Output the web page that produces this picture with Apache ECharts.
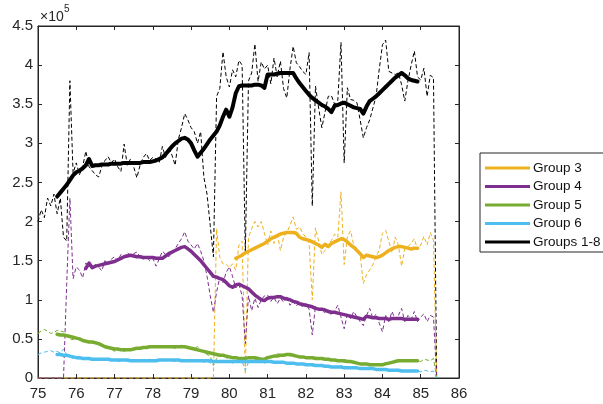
<!DOCTYPE html>
<html>
<head>
<meta charset="utf-8">
<script src="https://cdn.jsdelivr.net/npm/echarts@6/dist/echarts.min.js"></script>
<style>
  html, body { margin: 0; padding: 0; background: #fff; }
  #chart { width: 603px; height: 404px; }
</style>
</head>
<body>
<div id="chart"></div>
<script>
// Monthly sampling grid: 1975.0 onwards, one value per month (126 months).
const startYear = 75;
const monthCount = 126;
const months = Array.from({ length: monthCount }, (_, i) => startYear + i / 12);

// Monthly totals (units of 1e5)
const rawAll = [
  2.00, 2.15, 2.05, 2.30, 2.20, 2.35, 2.10, 2.30, 1.80, 1.75,
  3.80, 2.62, 2.75, 2.60, 2.70, 2.90, 2.70, 2.65, 2.60, 2.57,
  2.70, 2.78, 2.83, 2.75, 2.80, 2.70, 2.64, 2.99, 2.72, 2.80,
  2.70, 2.56, 2.72, 2.82, 2.87, 2.78, 2.82, 2.80, 2.75, 2.96,
  2.82, 2.95, 2.85, 2.72, 3.05, 3.20, 3.38, 3.30, 3.20, 3.15,
  3.00, 3.15, 2.57, 2.35, 1.95, 1.55, 3.60, 3.70, 4.17, 3.85,
  3.72, 3.94, 3.85, 4.06, 4.00, 1.60, 3.80, 3.90, 4.27, 3.79,
  4.04, 3.95, 4.00, 3.76, 4.09, 3.85, 4.05, 3.70, 3.58, 3.95,
  4.24, 4.03, 3.98, 3.92, 3.88, 4.16, 2.20, 3.73, 3.45, 3.20,
  3.40, 3.60, 3.61, 3.50, 3.55, 4.29, 2.75, 3.71, 3.56, 3.55,
  3.52, 3.30, 3.07, 3.20, 3.30, 3.45, 3.60, 3.95, 4.26, 4.32,
  3.92, 3.90, 3.88, 3.90, 3.75, 3.54, 3.80, 4.00, 4.18, 3.85,
  3.81, 3.96, 3.60, 3.87, 3.84, 0
];
const rawG3 = [
  0, 0, 0, 0, 0, 0, 0, 0, 0, 0,
  0, 0, 0, 0, 0, 0, 0, 0, 0, 0,
  0, 0, 0, 0, 0, 0, 0, 0, 0, 0,
  0, 0, 0, 0, 0, 0, 0, 0, 0, 0,
  0, 0, 0, 0, 0, 0, 0, 0, 0, 0,
  0, 0, 0, 0, 0, 0, 1.91, 1.54, 1.46, 1.45,
  1.41, 1.46, 1.38, 1.70, 1.75, 0.05, 1.80, 1.91, 2.00, 1.93,
  2.00, 1.85, 1.70, 1.88, 1.72, 1.85, 1.63, 1.80, 1.86, 1.95,
  2.06, 1.90, 1.93, 1.85, 1.80, 1.72, 1.00, 1.92, 1.75, 1.58,
  1.63, 1.70, 1.76, 1.84, 1.80, 2.38, 1.45, 1.81, 1.88, 1.70,
  1.65, 1.58, 1.21, 1.32, 1.38, 1.45, 1.55, 1.64, 1.85, 1.89,
  1.75, 1.60, 1.80, 1.70, 1.43, 1.65, 1.68, 1.72, 1.78, 1.64,
  1.70, 1.81, 1.70, 1.86, 1.76, 0
];
const rawG4 = [
  0, 0, 0, 0, 0, 0, 0, 0, 0, 1.20,
  2.30, 1.27, 1.42, 1.38, 1.28, 1.47, 1.43, 1.40, 1.45, 1.42,
  1.37, 1.50, 1.45, 1.52, 1.55, 1.50, 1.58, 1.55, 1.60, 1.57,
  1.59, 1.61, 1.55, 1.52, 1.55, 1.50, 1.53, 1.43, 1.52, 1.62,
  1.58, 1.55, 1.60, 1.65, 1.72, 1.78, 1.87, 1.75, 1.70, 1.65,
  1.72, 1.62, 1.50, 1.30, 1.05, 0.84, 1.10, 1.29, 1.22, 1.35,
  1.42, 1.30, 1.15, 1.20, 1.05, 0.44, 1.05, 0.86, 1.02, 0.90,
  1.00, 1.05, 1.06, 0.98, 1.03, 0.95, 1.02, 0.97, 1.05, 0.93,
  0.98, 0.92, 0.97, 0.90, 0.95, 0.88, 0.55, 0.92, 0.85, 0.90,
  0.82, 0.88, 0.80, 0.86, 0.93, 0.78, 0.63, 0.82, 0.76, 0.85,
  0.78, 0.72, 0.67, 0.80, 0.89, 0.76, 0.82, 0.70, 0.59, 0.80,
  0.72, 0.85, 0.75, 0.80, 0.89, 0.72, 0.80, 0.75, 0.85, 0.72,
  0.78, 0.82, 0.72, 0.80, 0.78, 0
];
const rawG5 = [
  0.57, 0.60, 0.62, 0.60, 0.57, 0.58, 0.61, 0.60, 0.59, 0.55,
  0.50, 0.49, 0.52, 0.50, 0.48, 0.47, 0.46, 0.45, 0.46, 0.43,
  0.41, 0.40, 0.38, 0.37, 0.34, 0.37, 0.35, 0.34, 0.36, 0.37,
  0.36, 0.38, 0.40, 0.39, 0.41, 0.40, 0.41, 0.39, 0.41, 0.40,
  0.40, 0.41, 0.39, 0.38, 0.40, 0.42, 0.39, 0.40, 0.37, 0.38,
  0.40, 0.36, 0.33, 0.30, 0.28, 0.16, 0.25, 0.28, 0.30, 0.26,
  0.24, 0.26, 0.25, 0.24, 0.25, 0.18, 0.24, 0.27, 0.23, 0.25,
  0.22, 0.26, 0.27, 0.29, 0.28, 0.31, 0.30, 0.29, 0.31, 0.28,
  0.30, 0.29, 0.28, 0.27, 0.28, 0.27, 0.24, 0.28, 0.26, 0.24,
  0.25, 0.24, 0.22, 0.24, 0.23, 0.22, 0.20, 0.23, 0.21, 0.22,
  0.20, 0.19, 0.17, 0.18, 0.15, 0.17, 0.16, 0.18, 0.17, 0.20,
  0.19, 0.21, 0.20, 0.22, 0.21, 0.23, 0.22, 0.21, 0.23, 0.22,
  0.21, 0.24, 0.23, 0.22, 0.25, 0
];
const rawG6 = [
  0.30, 0.32, 0.33, 0.34, 0.35, 0.33, 0.34, 0.32, 0.37, 0.30,
  0.27, 0.25, 0.26, 0.24, 0.25, 0.23, 0.24, 0.25, 0.23, 0.24,
  0.24, 0.23, 0.25, 0.22, 0.24, 0.21, 0.22, 0.23, 0.21, 0.22,
  0.21, 0.22, 0.23, 0.21, 0.22, 0.24, 0.22, 0.23, 0.21, 0.24,
  0.22, 0.23, 0.22, 0.21, 0.24, 0.22, 0.23, 0.21, 0.22, 0.23,
  0.21, 0.22, 0.20, 0.22, 0.19, 0.22, 0.20, 0.21, 0.22, 0.20,
  0.21, 0.19, 0.22, 0.20, 0.21, 0.10, 0.20, 0.22, 0.21, 0.20,
  0.21, 0.19, 0.21, 0.20, 0.22, 0.20, 0.19, 0.21, 0.19, 0.20,
  0.18, 0.19, 0.17, 0.18, 0.19, 0.16, 0.18, 0.15, 0.17, 0.16,
  0.15, 0.16, 0.14, 0.15, 0.13, 0.16, 0.14, 0.13, 0.15, 0.12,
  0.13, 0.12, 0.14, 0.11, 0.13, 0.11, 0.12, 0.10, 0.12, 0.11,
  0.10, 0.11, 0.09, 0.10, 0.08, 0.10, 0.09, 0.08, 0.10, 0.09,
  0.08, 0.10, 0.09, 0.08, 0.09, 0
];

// Smoothed trends; each begins at the given month index of the grid.
const smoothAllStart = 6;
const smoothAll = [
  2.32, 2.37, 2.42, 2.47, 2.53, 2.59, 2.63, 2.65, 2.68, 2.72,
  2.80, 2.71, 2.72, 2.72, 2.73, 2.73, 2.73, 2.74, 2.74, 2.74,
  2.74, 2.75, 2.75, 2.75, 2.75, 2.75, 2.75, 2.76, 2.76, 2.76,
  2.77, 2.78, 2.80, 2.82, 2.86, 2.91, 2.96, 3.00, 3.03, 3.06,
  3.07, 3.05, 3.00, 2.91, 2.83, 2.88, 2.93, 2.99, 3.05, 3.10,
  3.15, 3.23, 3.34, 3.43, 3.34, 3.46, 3.64, 3.73, 3.74, 3.74,
  3.74, 3.74, 3.75, 3.75, 3.74, 3.71, 3.88, 3.88, 3.88, 3.89,
  3.90, 3.90, 3.90, 3.90, 3.90, 3.83, 3.77, 3.72, 3.67, 3.62,
  3.58, 3.55, 3.52, 3.49, 3.47, 3.44, 3.40, 3.48, 3.49, 3.51,
  3.52, 3.50, 3.48, 3.46, 3.45, 3.44, 3.38, 3.47, 3.54, 3.57,
  3.60, 3.64, 3.68, 3.72, 3.76, 3.80, 3.84, 3.87, 3.90, 3.87,
  3.83, 3.81, 3.80, 3.79
];
const smoothG3Start = 62;
const smoothG3 = [
  1.53, 1.55, 1.57, 1.60, 1.62, 1.64, 1.66, 1.68, 1.70, 1.72,
  1.75, 1.78, 1.80, 1.82, 1.84, 1.85, 1.86, 1.86, 1.86, 1.85,
  1.80, 1.78, 1.77, 1.76, 1.74, 1.72, 1.70, 1.67, 1.71, 1.68,
  1.72, 1.74, 1.76, 1.78, 1.77, 1.74, 1.70, 1.67, 1.63, 1.59,
  1.54, 1.57, 1.56, 1.55, 1.54, 1.55, 1.57, 1.60, 1.63, 1.65,
  1.67, 1.68, 1.68, 1.67, 1.66, 1.65, 1.66, 1.66
];
const smoothG4Start = 15;
const smoothG4 = [
  1.40, 1.47, 1.41, 1.43, 1.44, 1.45, 1.46, 1.47, 1.48, 1.49,
  1.51, 1.53, 1.55, 1.56, 1.57, 1.56, 1.55, 1.55, 1.54, 1.54,
  1.54, 1.54, 1.53, 1.53, 1.53, 1.56, 1.59, 1.61, 1.63, 1.65,
  1.67, 1.68, 1.65, 1.62, 1.58, 1.54, 1.50, 1.45, 1.40, 1.35,
  1.30, 1.29, 1.27, 1.26, 1.22, 1.18, 1.16, 1.19, 1.20, 1.18,
  1.16, 1.14, 1.10, 1.06, 1.03, 1.00, 0.99, 1.02, 1.03, 1.03,
  1.04, 1.04, 1.02, 1.01, 1.00, 0.98, 0.97, 0.95, 0.94, 0.93,
  0.92, 0.91, 0.89, 0.88, 0.88, 0.87, 0.85, 0.84, 0.84, 0.83,
  0.82, 0.81, 0.80, 0.79, 0.78, 0.77, 0.76, 0.75, 0.79, 0.78,
  0.77, 0.77, 0.76, 0.76, 0.76, 0.75, 0.76, 0.76, 0.76, 0.76,
  0.75, 0.75, 0.75, 0.75, 0.75
];
const smoothG5Start = 6;
const smoothG5 = [
  0.56, 0.55, 0.55, 0.54, 0.53, 0.52, 0.51, 0.50, 0.48, 0.47,
  0.46, 0.46, 0.45, 0.44, 0.42, 0.40, 0.39, 0.38, 0.37, 0.37,
  0.36, 0.36, 0.36, 0.36, 0.37, 0.38, 0.38, 0.39, 0.39, 0.40,
  0.40, 0.40, 0.40, 0.40, 0.40, 0.40, 0.40, 0.40, 0.40, 0.40,
  0.40, 0.39, 0.38, 0.37, 0.36, 0.35, 0.34, 0.33, 0.32, 0.31,
  0.30, 0.29, 0.29, 0.28, 0.27, 0.26, 0.26, 0.25, 0.25, 0.25,
  0.26, 0.26, 0.26, 0.25, 0.24, 0.24, 0.26, 0.27, 0.28, 0.28,
  0.29, 0.29, 0.30, 0.30, 0.29, 0.28, 0.27, 0.27, 0.26, 0.26,
  0.26, 0.25, 0.25, 0.25, 0.24, 0.24, 0.23, 0.23, 0.22, 0.22,
  0.22, 0.21, 0.21, 0.20, 0.19, 0.18, 0.18, 0.18, 0.17, 0.17,
  0.17, 0.17, 0.17, 0.18, 0.19, 0.20, 0.21, 0.22, 0.22, 0.22,
  0.22, 0.22, 0.22, 0.22
];
const smoothG6Start = 6;
const smoothG6 = [
  0.30, 0.30, 0.29, 0.29, 0.28, 0.27, 0.26, 0.26, 0.25, 0.25,
  0.25, 0.24, 0.24, 0.24, 0.24, 0.24, 0.24, 0.23, 0.23, 0.23,
  0.23, 0.23, 0.23, 0.22, 0.22, 0.22, 0.22, 0.22, 0.22, 0.22,
  0.22, 0.22, 0.23, 0.23, 0.23, 0.23, 0.23, 0.23, 0.23, 0.22,
  0.22, 0.22, 0.22, 0.22, 0.22, 0.22, 0.22, 0.22, 0.22, 0.21,
  0.21, 0.21, 0.21, 0.21, 0.21, 0.21, 0.21, 0.21, 0.21, 0.21,
  0.21, 0.21, 0.21, 0.21, 0.21, 0.21, 0.21, 0.21, 0.20, 0.20,
  0.20, 0.20, 0.19, 0.19, 0.19, 0.18, 0.18, 0.18, 0.17, 0.17,
  0.17, 0.16, 0.16, 0.16, 0.15, 0.15, 0.14, 0.14, 0.14, 0.14,
  0.13, 0.13, 0.13, 0.13, 0.13, 0.12, 0.12, 0.12, 0.12, 0.12,
  0.11, 0.11, 0.11, 0.11, 0.10, 0.10, 0.10, 0.10, 0.09, 0.09,
  0.09, 0.09, 0.09, 0.09
];

const groupNames = ['Group 3', 'Group 4', 'Group 5', 'Group 6', 'Groups 1-8'];
const groupColors = ['#EDB120', '#7E2F8E', '#77AC30', '#4DBEEE', '#000000'];
const yTicks = [0, 0.5, 1, 1.5, 2, 2.5, 3, 3.5, 4, 4.5];

const axisColor = '#262626';
const font = '"Liberation Sans", Arial, Helvetica, sans-serif';

function rawPoints(values) {
  return values.map((v, i) => [months[i], v]);
}
function smoothPoints(values, start) {
  return values.map((v, k) => [months[start + k], v]);
}

const rawSets = [rawG3, rawG4, rawG5, rawG6, rawAll];
const smoothSets = [
  [smoothG3, smoothG3Start],
  [smoothG4, smoothG4Start],
  [smoothG5, smoothG5Start],
  [smoothG6, smoothG6Start],
  [smoothAll, smoothAllStart]
];

const series = [];
// thin dashed monthly lines, totals underneath
[4, 0, 1, 2, 3].forEach(g => {
  series.push({
    name: groupNames[g] + ' (monthly)',
    type: 'line',
    data: rawPoints(rawSets[g]),
    showSymbol: false,
    symbol: 'none',
    clip: false,
    lineStyle: { color: groupColors[g], width: 1, type: [4, 2.5] },
    itemStyle: { color: groupColors[g] },
    z: 2
  });
});
// thick smoothed trend lines
[0, 1, 2, 3, 4].forEach(g => {
  series.push({
    name: groupNames[g],
    type: 'line',
    data: smoothPoints(smoothSets[g][0], smoothSets[g][1]),
    showSymbol: false,
    symbol: 'none',
    lineStyle: { color: groupColors[g], width: g === 4 ? 4 : 3.5, cap: 'round', join: 'round' },
    itemStyle: { color: groupColors[g] },
    z: 3
  });
});

const axisCommon = {
  type: 'value',
  axisLine: { show: true, onZero: false, lineStyle: { color: axisColor, width: 1 } },
  axisTick: { show: true, inside: true, length: 4, lineStyle: { color: axisColor } },
  splitLine: { show: false }
};

const chart = echarts.init(document.getElementById('chart'), null, { renderer: 'canvas' });
chart.setOption({
  animation: false,
  backgroundColor: '#ffffff',
  grid: { left: 38, right: 144, top: 26, bottom: 26, containLabel: false,
    show: true, borderColor: axisColor, borderWidth: 1, backgroundColor: 'transparent' },
  xAxis: [
    Object.assign({}, axisCommon, {
      min: 75, max: 86, interval: 1, position: 'bottom',
      axisLabel: { color: axisColor, fontSize: 15, fontFamily: font, margin: 8 }
    }),
    Object.assign({}, axisCommon, {
      min: 75, max: 86, interval: 1, position: 'top',
      axisLabel: { show: false }
    })
  ],
  yAxis: [
    Object.assign({}, axisCommon, {
      min: yTicks[0], max: yTicks[yTicks.length - 1], interval: 0.5, position: 'left',
      axisLabel: { color: axisColor, fontSize: 15, fontFamily: font, margin: 5,
        formatter: v => String(v) }
    }),
    Object.assign({}, axisCommon, {
      min: yTicks[0], max: yTicks[yTicks.length - 1], interval: 0.5, position: 'right',
      axisLabel: { show: false }
    })
  ],
  legend: {
    data: groupNames,
    orient: 'vertical',
    left: 480,
    top: 153,
    width: 121,
    padding: [8, 7, 3, 5],
    itemGap: 4.5,
    itemWidth: 45,
    itemHeight: 3,
    icon: 'rect',
    selectedMode: false,
    borderColor: axisColor,
    borderWidth: 1,
    backgroundColor: '#ffffff',
    textStyle: { color: '#111', fontSize: 13.5, fontFamily: font, padding: [0, 0, 0, -2], lineHeight: 14 }
  },
  graphic: [
    {
      type: 'text', left: 40, top: 10,
      style: { text: '\u00d710', fill: axisColor, font: '14px ' + font }
    },
    {
      type: 'text', left: 64, top: 4,
      style: { text: '5', fill: axisColor, font: '10px ' + font }
    }
  ],
  series: series
});
</script>
</body>
</html>
